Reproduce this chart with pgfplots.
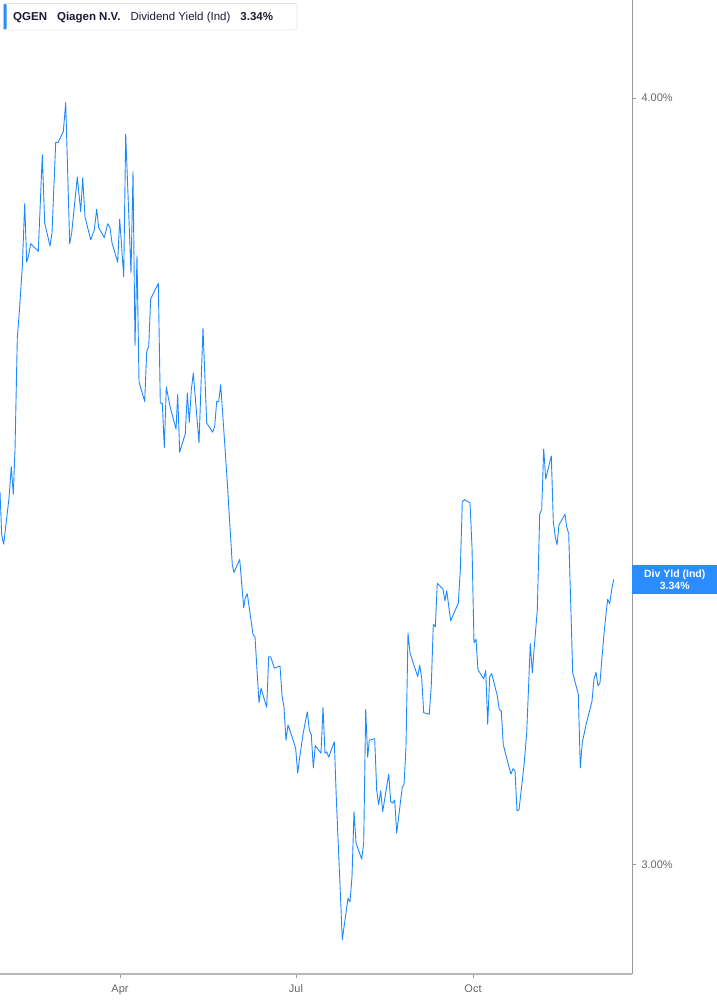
\documentclass[border=0pt]{standalone}
\usepackage{fontspec}
\setmainfont{Liberation Sans}
\usepackage{pgfplots}
\pgfplotsset{compat=1.18}

\definecolor{lineblue}{HTML}{1E88FF}
\definecolor{boxblue}{HTML}{2A8CFF}
\definecolor{titletext}{HTML}{1B1B33}
\definecolor{ticktext}{HTML}{666666}
\definecolor{axisgray}{HTML}{9A9A9A}

% x: position along the date axis (Apr, Jul, Oct ticks), y: dividend yield in %
\pgfplotstableread{
x y
0 3.486
1.7 3.430
3.7 3.418
9 3.478
11.3 3.519
13.3 3.483
15 3.541
17.3 3.687
19 3.715
22.3 3.780
24.7 3.862
26.7 3.786
28.3 3.793
30.7 3.810
38.3 3.800
42.3 3.926
44.7 3.837
50 3.807
52 3.824
55.7 3.942
58 3.942
63.3 3.956
65.7 3.994
69.7 3.810
71.7 3.824
77.3 3.897
80.7 3.852
82.7 3.896
85 3.845
90.7 3.815
94.3 3.828
96.7 3.855
98.7 3.831
104.3 3.818
107.7 3.836
110 3.831
112 3.811
117.7 3.786
119.7 3.842
123.7 3.767
125.7 3.953
131 3.772
133 3.904
135 3.677
137 3.794
139 3.630
144.7 3.604
146.7 3.669
148.7 3.676
150.7 3.738
158.3 3.758
160.3 3.602
162.3 3.602
164.3 3.544
166.3 3.623
170 3.598
176 3.568
177.7 3.613
179.7 3.538
185.3 3.562
187.3 3.615
189.3 3.577
191.3 3.619
193.3 3.641
199 3.550
203 3.700
206.7 3.576
212.7 3.564
214.7 3.572
216.7 3.604
218.7 3.604
220.7 3.626
226.7 3.511
232.3 3.391
234 3.381
239.7 3.398
243.7 3.335
245.3 3.348
247.3 3.353
253 3.300
255 3.297
259 3.211
261 3.230
266.7 3.205
268.7 3.271
270.7 3.271
274.3 3.256
280 3.259
282 3.221
284 3.205
286 3.162
288 3.182
293.7 3.160
295.7 3.151
297.7 3.119
299.7 3.140
303.3 3.172
307.3 3.199
309.3 3.176
311.3 3.169
313.3 3.126
315.3 3.155
321 3.145
323 3.205
325 3.145
326.7 3.147
328.7 3.140
334.3 3.160
336.3 3.087
342.3 2.902
348 2.956
350 2.951
352 2.984
354 3.069
356 3.028
361.7 3.007
363.7 3.028
365.7 3.202
367.7 3.140
369.3 3.162
374.7 3.164
376.7 3.097
378.7 3.078
380.7 3.096
382.7 3.069
388.7 3.118
390.7 3.082
392.7 3.080
394.7 3.084
396.7 3.041
402.3 3.101
404 3.104
406 3.153
408 3.302
410 3.276
417.7 3.245
419.7 3.260
421.7 3.243
423.7 3.198
429.3 3.196
431.3 3.234
433.3 3.313
435.3 3.310
437.3 3.367
443 3.359
445 3.344
446.7 3.357
450.7 3.318
456.3 3.335
458.3 3.341
460.3 3.384
462.3 3.473
464.3 3.476
470 3.472
472 3.414
474 3.289
476 3.294
478 3.254
483.7 3.242
485.7 3.253
487.7 3.183
489.7 3.245
491.7 3.249
497.3 3.220
499.3 3.202
501.3 3.200
503.3 3.156
509 3.127
511 3.118
513 3.125
515 3.122
517 3.070
519 3.071
524.3 3.133
526.7 3.172
530.3 3.288
532.3 3.250
534.3 3.284
537.3 3.332
539.7 3.457
541.7 3.463
543.7 3.542
545.7 3.503
551.3 3.533
553.3 3.448
555.3 3.427
557 3.417
559 3.443
565 3.457
566.7 3.440
568.7 3.432
572.7 3.250
578.3 3.222
580.3 3.126
582.3 3.159
586 3.182
592 3.213
594 3.242
596 3.251
598 3.233
600 3.237
602 3.270
604 3.301
606 3.327
607.7 3.346
609.7 3.340
611.7 3.359
613.7 3.372
}\yielddata

\begin{document}
\begin{tikzpicture}
\useasboundingbox (0,0) rectangle (717pt,1005pt);
\begin{axis}[
    at={(0,31pt)}, anchor=south west,
    scale only axis, width=632pt, height=974pt,
    xmin=0, xmax=632, ymin=2.857, ymax=4.128,
    axis x line*=bottom, axis y line*=right,
    x axis line style={draw=axisgray!70, line width=1.6pt},
    y axis line style={draw=axisgray, line width=1pt},
    tick align=outside,
    major tick length=4pt,
    tick style={draw=axisgray, line width=0.8pt},
    xtick={120,296,473}, xticklabels={Apr,Jul,Oct},
    ytick={3,4},
    yticklabel={\pgfmathprintnumber[fixed,fixed zerofill,precision=2]{\tick}\%},
    /pgf/number format/assume math mode=true,
    ticklabel style={font=\fontsize{11}{13}\selectfont, text=ticktext},
    yticklabel style={xshift=2pt},
    xticklabel style={yshift=-3pt},
    clip=false,
]
\addplot[lineblue, line width=0.9pt, line join=round] table[x=x, y=y] {\yielddata};
\node[fill=boxblue, text=white, anchor=west, inner sep=0pt,
      minimum width=85pt, minimum height=29pt, align=center,
      font=\fontsize{10.5}{12}\selectfont\bfseries] at (axis cs:632,3.372)
      {Div Yld (Ind)\\3.34\%};
\end{axis}
% legend box at the top left
\draw[draw=black!10, fill=white, rounded corners=2pt, line width=0.6pt]
  (3pt,1001.5pt) rectangle (297pt,975pt);
\fill[boxblue, rounded corners=1pt] (3.5pt,1001pt) rectangle (6.5pt,975.5pt);
\node[anchor=base west, inner sep=0pt, text=titletext,
      font=\fontsize{11.5}{13}\selectfont\bfseries] at (13pt,984pt)
  {QGEN\hspace{10pt}Qiagen N.V.\hspace{10pt}\mdseries Dividend Yield (Ind)\hspace{10pt}\bfseries 3.34\%};
\end{tikzpicture}
\end{document}
